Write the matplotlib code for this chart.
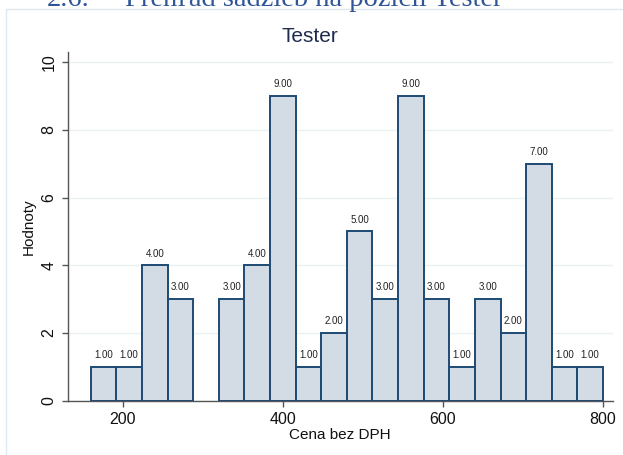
import numpy as np
import matplotlib
matplotlib.use("Agg")
import matplotlib.pyplot as plt
from matplotlib.patches import Rectangle

# histogram of prices, bin width 32 starting at 160
bin_start = 160
bin_width = 32
counts = [1, 1, 4, 3, 0, 3, 4, 9, 1, 2, 5, 3, 9, 3, 1, 3, 2, 7, 1, 1]
x_ticks = [200, 400, 600, 800]
y_ticks = [0, 2, 4, 6, 8, 10]

plt.rcParams["font.family"] = ["Liberation Sans", "DejaVu Sans"]

W, H = 623, 455
fig = plt.figure(figsize=(W / 100, H / 100), dpi=100)

# document heading, cut off at top of screenshot (as in the source)
fig.text(47 / W, 1 - 6 / H, "2.6.", family="Liberation Serif", fontsize=20.5,
         color="#2f5597", va="baseline", ha="left")
fig.text(125 / W, 1 - 6 / H, "Prehľad sadzieb na pozícii Tester", family="Liberation Serif",
         fontsize=20.5, color="#2f5597", va="baseline", ha="left")

# light frame of the stata graph
fig.patches.append(Rectangle((6 / W, -0.05), 1.1, 1 - 9 / H + 0.05, transform=fig.transFigure,
                             fill=False, edgecolor="#dfe8ee", linewidth=1.0))

ax = fig.add_axes([67.5 / W, 1 - 400.7 / H, (613 - 67.5) / W, (400.7 - 52) / H])

edges = bin_start + bin_width * np.arange(len(counts))
for x0, c in zip(edges, counts):
    if c == 0:
        continue
    ax.bar(x0, c, width=bin_width, align="edge", color="#d3dbe4",
           edgecolor="#1d4a73", linewidth=1.4, zorder=3)
    ax.text(x0 + bin_width / 2, c + 0.2, f"{c:.2f}", ha="center", va="bottom",
            fontsize=7, color="#222222", zorder=4)

ax.set_xlim(131, 812.5)
ax.set_ylim(0, 10.3)
ax.set_xticks(x_ticks)
ax.set_yticks(y_ticks)
ax.set_yticklabels([str(v) for v in y_ticks], rotation=90, va="center")
ax.yaxis.grid(True, color="#eaf1f3", linewidth=1.0, zorder=0)
ax.set_axisbelow(True)

for s in ["top", "right"]:
    ax.spines[s].set_visible(False)
for s in ["left", "bottom"]:
    ax.spines[s].set_color("#555555")
    ax.spines[s].set_linewidth(1.0)
ax.tick_params(direction="out", length=4, width=1, color="#555555",
               labelsize=11.5, labelcolor="#111111", pad=4)

ax.set_xlabel("Cena bez DPH", fontsize=11, color="#111111", labelpad=1)
ax.set_ylabel("Hodnoty", fontsize=11, color="#111111", labelpad=4)

fig.text(310 / W, 1 - 37 / H, "Tester", fontsize=15, color="#1e2c4e", ha="center", va="center")

fig.savefig("out.png", dpi=100)
